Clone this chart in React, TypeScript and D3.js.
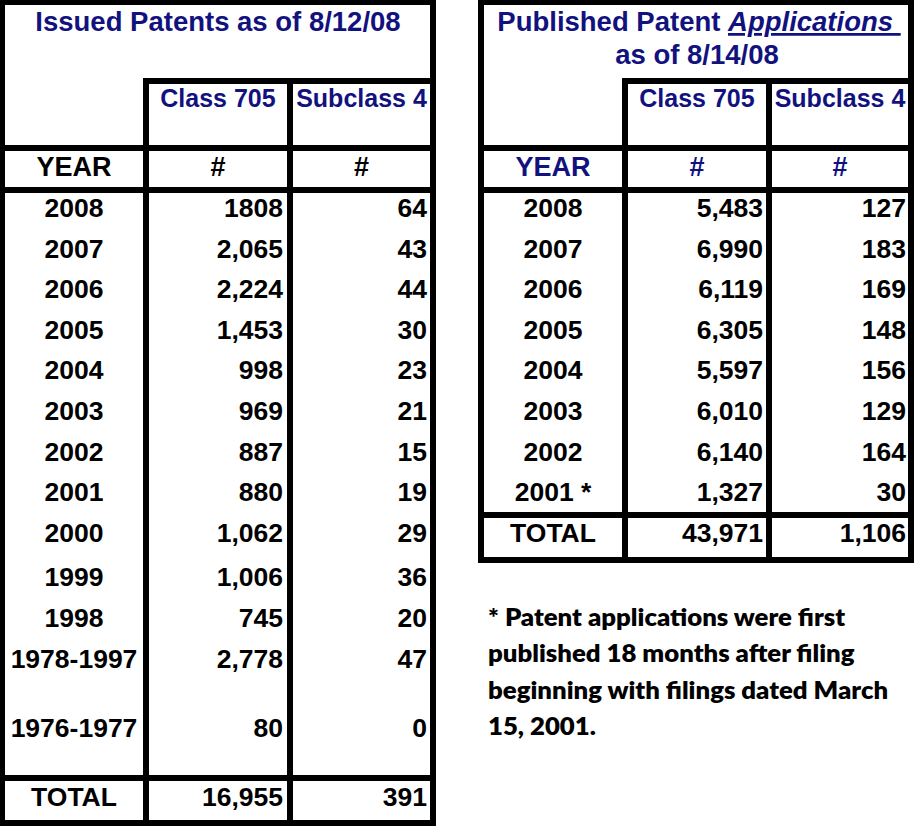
import React from "react";
import * as d3 from "d3";

// ---------- data ----------
const issuedYears = ["2008", "2007", "2006", "2005", "2004", "2003", "2002", "2001", "2000", "1999", "1998", "1978-1997", "1976-1977"];
const issuedClass705 = [1808, 2065, 2224, 1453, 998, 969, 887, 880, 1062, 1006, 745, 2778, 80];
const issuedSubclass4 = [64, 43, 44, 30, 23, 21, 15, 19, 29, 36, 20, 47, 0];

const publishedYears = ["2008", "2007", "2006", "2005", "2004", "2003", "2002", "2001 *"];
const publishedClass705 = [5483, 6990, 6119, 6305, 5597, 6010, 6140, 1327];
const publishedSubclass4 = [127, 183, 169, 148, 156, 129, 164, 30];

const issuedTitle = "Issued Patents as of 8/12/08";
const publishedTitleA = "Published Patent ";
const publishedTitleB = "Applications\u00a0";
const publishedTitleC = "as of 8/14/08";
const colHeaders = ["Class 705", "Subclass 4"];
const yearHeader = "YEAR";
const numHeader = "#";
const totalLabel = "TOTAL";
const footnote = [
  "* Patent applications were first",
  "published 18 months after filing",
  "beginning with filings dated March",
  "15, 2001.",
];

// ---------- layout ----------
const W = 915;
const H = 826;
const BLUE = "#12127f";
const FONT = "Arial, 'Liberation Sans', Helvetica, sans-serif";
// relative row pitch units (spacing between rows in the body)
const rowUnits = [1, 1, 1, 1, 1, 1, 1, 1, 1, 1.1, 1, 1, 1.7];
const fmt = d3.format(",");
const fmtIssued = (v: number, i: number) => (i === 0 ? String(v) : fmt(v));

export default function App() {
  const cum: number[] = [];
  rowUnits.reduce((acc, u, i) => {
    const v = i === 0 ? 0 : acc + u;
    cum.push(v);
    return v;
  }, 0);
  const rowY = d3.scaleLinear().domain([0, 1]).range([217, 257.6]);

  const fs = 26.5;

  const Line = (x: number, y: number, w: number, h: number, k: string) => (
    <rect key={k} x={x} y={y} width={w} height={h} fill="#000" />
  );

  // left table geometry
  const Lx = [0, 143, 287, 430];
  const Lw = [5, 6, 6, 6];
  const Lright = 436;
  // right table geometry
  const Rx = [478, 622, 766, 908];
  const Rw = [6, 6, 6, 6];
  const Rright = 914;

  const leftYearX = (Lx[0] + Lw[0] + Lx[1]) / 2;
  const leftC1R = Lx[2] - 4;
  const leftC2R = Lx[3] - 3;
  const leftC1Mid = (Lx[1] + 6 + Lx[2]) / 2;
  const leftC2Mid = (Lx[2] + 6 + Lx[3]) / 2;
  const rightYearX = (Rx[0] + 6 + Rx[1]) / 2;
  const rightC1R = Rx[2] - 3;
  const rightC2R = Rx[3] - 2;
  const rightC1Mid = (Rx[1] + 6 + Rx[2]) / 2;
  const rightC2Mid = (Rx[2] + 6 + Rx[3]) / 2;

  const issuedTotal705 = d3.sum(issuedClass705);
  const issuedTotal4 = d3.sum(issuedSubclass4);
  const pubTotal705 = d3.sum(publishedClass705);
  const pubTotal4 = d3.sum(publishedSubclass4);

  const lines: React.ReactNode[] = [];
  // left table
  lines.push(Line(0, 0, Lright, 5, "lt"));
  lines.push(Line(Lx[0], 0, Lw[0], H, "lv0"));
  lines.push(Line(Lx[3], 0, Lw[3], H, "lv3"));
  lines.push(Line(Lx[1], 78, Lw[1], H - 78, "lv1"));
  lines.push(Line(Lx[2], 78, Lw[2], H - 78, "lv2"));
  lines.push(Line(Lx[1], 78, Lright - Lx[1], 6, "lh1"));
  lines.push(Line(0, 145, Lright, 6, "lh2"));
  lines.push(Line(0, 187, Lright, 6, "lh3"));
  lines.push(Line(0, 775, Lright, 6, "lh4"));
  lines.push(Line(0, 820, Lright, 6, "lh5"));
  // right table
  const rBottom = 563;
  lines.push(Line(Rx[0], 0, Rright - Rx[0], 5, "rt"));
  lines.push(Line(Rx[0], 0, Rw[0], rBottom, "rv0"));
  lines.push(Line(Rx[3], 0, Rw[3], rBottom, "rv3"));
  lines.push(Line(Rx[1], 78, Rw[1], rBottom - 78, "rv1"));
  lines.push(Line(Rx[2], 78, Rw[2], rBottom - 78, "rv2"));
  lines.push(Line(Rx[1], 78, Rright - Rx[1], 6, "rh1"));
  lines.push(Line(Rx[0], 145, Rright - Rx[0], 6, "rh2"));
  lines.push(Line(Rx[0], 187, Rright - Rx[0], 6, "rh3"));
  lines.push(Line(Rx[0], 512, Rright - Rx[0], 6, "rh4"));
  lines.push(Line(Rx[0], 557, Rright - Rx[0], 6, "rh5"));

  const T = (
    x: number,
    y: number,
    s: string,
    anchor: "start" | "middle" | "end",
    size: number,
    color: string,
    k: string
  ) => (
    <text key={k} x={x} y={y} textAnchor={anchor} fontSize={size} fill={color} fontWeight="bold" fontFamily={FONT}>
      {s}
    </text>
  );

  const fnX = 488;
  const fnScale = 1.03;

  return (
    <svg width={W} height={H} style={{ position: "absolute", left: 0, top: 0, background: "#fff" }}>
      <rect x={0} y={0} width={W} height={H} fill="#fff" />
      {lines}

      {/* left headers */}
      {T(218, 31, issuedTitle, "middle", 27.5, BLUE, "lt")}
      {T(leftC1Mid, 107, colHeaders[0], "middle", 25, BLUE, "lc1")}
      {T(leftC2Mid, 107, colHeaders[1], "middle", 25, BLUE, "lc2")}
      {T(leftYearX, 176, yearHeader, "middle", 27, "#000", "ly")}
      {T(leftC1Mid, 176, numHeader, "middle", 27, "#000", "ln1")}
      {T(leftC2Mid, 176, numHeader, "middle", 27, "#000", "ln2")}

      {/* left body */}
      {issuedYears.map((yr, i) => (
        <g key={"lr" + i}>
          {T(leftYearX, rowY(cum[i]), yr, "middle", fs, "#000", "a")}
          {T(leftC1R, rowY(cum[i]), fmtIssued(issuedClass705[i], i), "end", fs, "#000", "b")}
          {T(leftC2R, rowY(cum[i]), fmt(issuedSubclass4[i]), "end", fs, "#000", "c")}
        </g>
      ))}
      {T(leftYearX, 806, totalLabel, "middle", fs, "#000", "ltl")}
      {T(leftC1R, 806, fmt(issuedTotal705), "end", fs, "#000", "lt1")}
      {T(leftC2R, 806, fmt(issuedTotal4), "end", fs, "#000", "lt2")}

      {/* right headers */}
      <text x={699} y={31} textAnchor="middle" fontSize={27.5} fill={BLUE} fontWeight="bold" fontFamily={FONT} style={{ whiteSpace: "pre" }}>
        {publishedTitleA}
        <tspan fontStyle="italic" textDecoration="underline" style={{ textDecoration: "underline" }}>
          {publishedTitleB}
        </tspan>
      </text>
      {T(697, 64, publishedTitleC, "middle", 27.5, BLUE, "rt2")}
      {T(rightC1Mid, 107, colHeaders[0], "middle", 25, BLUE, "rc1")}
      {T(rightC2Mid, 107, colHeaders[1], "middle", 25, BLUE, "rc2")}
      {T(rightYearX, 176, yearHeader, "middle", 27, BLUE, "ry")}
      {T(rightC1Mid, 176, numHeader, "middle", 27, BLUE, "rn1")}
      {T(rightC2Mid, 176, numHeader, "middle", 27, BLUE, "rn2")}

      {/* right body */}
      {publishedYears.map((yr, i) => (
        <g key={"rr" + i}>
          {T(rightYearX, rowY(cum[i]), yr, "middle", fs, "#000", "a")}
          {T(rightC1R, rowY(cum[i]), fmt(publishedClass705[i]), "end", fs, "#000", "b")}
          {T(rightC2R, rowY(cum[i]), fmt(publishedSubclass4[i]), "end", fs, "#000", "c")}
        </g>
      ))}
      {T(rightYearX, 542, totalLabel, "middle", fs, "#000", "rtl")}
      {T(rightC1R, 542, fmt(pubTotal705), "end", fs, "#000", "rt1")}
      {T(rightC2R, 542, fmt(pubTotal4), "end", fs, "#000", "rt2b")}

      {/* footnote */}
      <g transform={`translate(${fnX},0) scale(${fnScale},1)`}>
        {footnote.map((s, i) => (
          <text key={"fn" + i} x={0} y={626 + i * 36.3} fontSize={25} fontWeight={800} fill="#000" fontFamily="Lato, 'Open Sans', sans-serif">
            {s}
          </text>
        ))}
      </g>
    </svg>
  );
}
